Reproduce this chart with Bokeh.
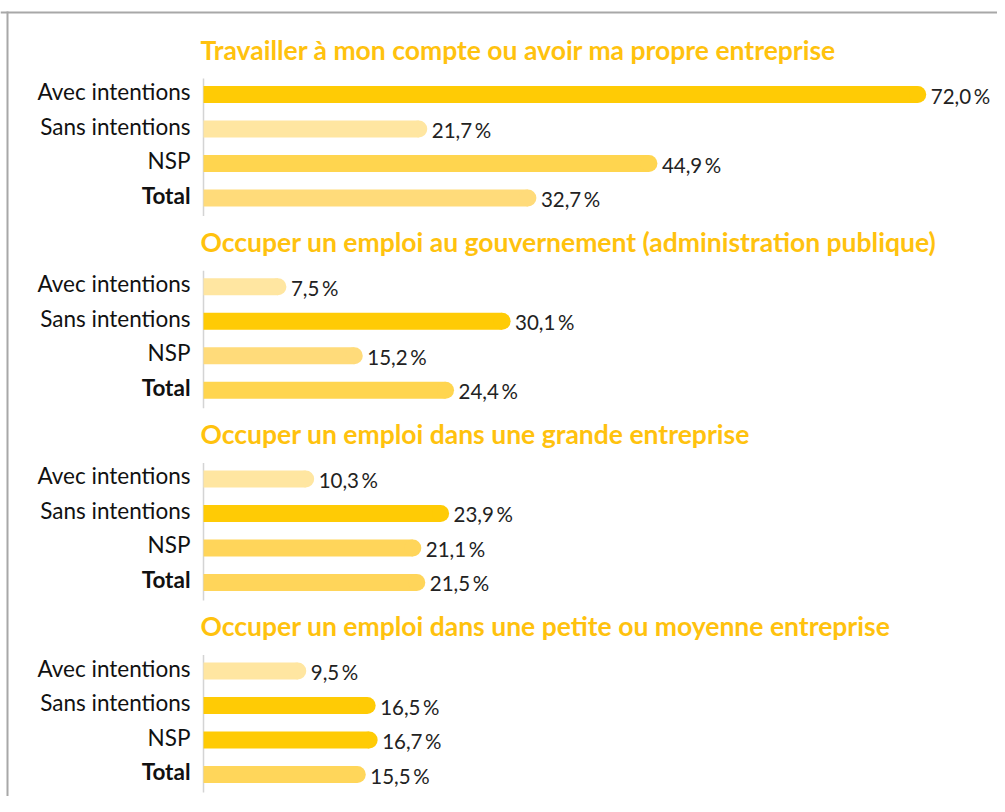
from bokeh.plotting import figure
from bokeh.models import Range1d, Span, ColumnDataSource
from bokeh.core.properties import value
from bokeh.embed import file_html
from bokeh.resources import INLINE

# ---- data ----
titles = [
    "Travailler à mon compte ou avoir ma propre entreprise",
    "Occuper un emploi au gouvernement (administration publique)",
    "Occuper un emploi dans une grande entreprise",
    "Occuper un emploi dans une petite ou moyenne entreprise",
]
categories = ["Avec intentions", "Sans intentions", "NSP", "Total"]
values_p1 = [72.0, 21.7, 44.9, 32.7]
values_p2 = [7.5, 30.1, 15.2, 24.4]
values_p3 = [10.3, 23.9, 21.1, 21.5]
values_p4 = [9.5, 16.5, 16.7, 15.5]

DARK, MED, LMED, LIGHT = "#FFCB05", "#FFD54F", "#FFDB7A", "#FFE6A1"
colors_p1 = [DARK, LIGHT, MED, LMED]
colors_p2 = [LIGHT, DARK, LMED, MED]
colors_p3 = [LIGHT, DARK, "#FFD55A", "#FFD55A"]
colors_p4 = [LIGHT, DARK, DARK, "#FFD65A"]

panels_values = [values_p1, values_p2, values_p3, values_p4]
panels_colors = [colors_p1, colors_p2, colors_p3, colors_p4]

# ---- layout ----
W, H = 997, 796
PX_PER_UNIT = 9.92
ZERO_PX = 203
x_start = -ZERO_PX / PX_PER_UNIT
x_end = x_start + W / PX_PER_UNIT

FIRST_BAR = 94
PANEL_STEP = 192.2
ROW_STEP = 34.5
TITLE_OFF = -45
BAR_H = 17

p = figure(width=W, height=H, x_range=Range1d(x_start, x_end), y_range=Range1d(H, 0),
           output_backend="svg", toolbar_location=None, min_border=0)
p.axis.visible = False
p.grid.visible = False
p.outline_line_color = None
p.background_fill_color = "white"
p.border_fill_color = "white"

ys, vs, cs, cats, styles, labs = [], [], [], [], [], []
tx, ty, tt = [], [], []
ax_y0, ax_y1 = [], []
for i, (vals, cols) in enumerate(zip(panels_values, panels_colors)):
    base = FIRST_BAR + i * PANEL_STEP
    tx.append(0)
    ty.append(base + TITLE_OFF)
    tt.append(titles[i])
    ax_y0.append(base - 16)
    ax_y1.append(base + 3 * ROW_STEP + 18)
    for j, (v, c) in enumerate(zip(vals, cols)):
        ys.append(base + j * ROW_STEP)
        vs.append(v)
        cs.append(c)
        cats.append(categories[j])
        styles.append("bold" if categories[j] == "Total" else "normal")
        labs.append(f"{v:.1f}".replace(".", ",") + "\u2009%")

src = ColumnDataSource(dict(y=ys, v=vs, c=cs, cat=cats, fs=styles, lab=labs, zero=[0] * len(ys)))

# axis lines
p.segment(x0=[0] * 4, x1=[0] * 4, y0=ax_y0, y1=ax_y1, line_color="#D4D4D4", line_width=1.5)

# bars with rounded ends
p.hbar(y="y", left=0, right="v", height=BAR_H, fill_color="c", line_color=None, source=src)
p.scatter(x="v", y="y", size=BAR_H, marker="circle", fill_color="c", line_color=None, source=src)

# category labels
p.text(x="zero", y="y", text="cat", source=src, x_offset=-13, y_offset=-3,
       text_align="right", text_baseline="middle", text_font=value("Lato"),
       text_font_size="22.5px", text_font_style="fs", text_color="#111111")

# value labels
p.text(x="v", y="y", text="lab", source=src, x_offset=13, y_offset=1,
       text_align="left", text_baseline="middle", text_font=value("Lato"),
       text_font_size="20.5px", text_color="#222222")

# titles
p.text(x=tx, y=ty, text=tt, x_offset=-3, text_align="left", text_baseline="middle",
       text_font=value("Lato"), text_font_size="26.5px", text_font_style="bold",
       text_color="#FFC20E")

# frame (top and left)
p.add_layout(Span(location=12, dimension="width", line_color="#A8A8A8", line_width=2))
frame_x = x_start + 7 / PX_PER_UNIT
p.segment(x0=[frame_x], x1=[frame_x], y0=[11], y1=[H], line_color="#A8A8A8", line_width=2)

open("out.html", "w").write(file_html(p, INLINE))
